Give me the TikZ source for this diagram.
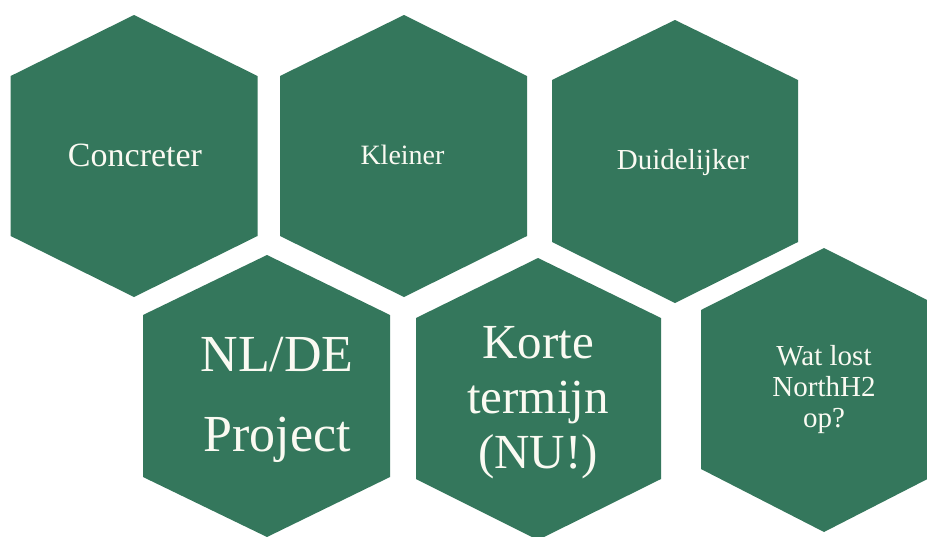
\documentclass[tikz,border=0pt]{standalone}
\usepackage{fontspec}
\setmainfont{Liberation Serif}
\definecolor{hexgreen}{RGB}{52,119,92}
\definecolor{hextext}{RGB}{250,250,242}
\newcommand\hexa[7]{\fill[hexfill] (#1,#2) -- (#4,#5) -- (#4,#6) -- (#1,#7) -- (#3,#6) -- (#3,#5) -- cycle;}
\begin{document}
\begin{tikzpicture}[x=1pt,y=-1pt,
  hexfill/.style={fill=hexgreen,draw=none},
  hexlabel/.style={text=hextext,align=center,inner sep=0pt,anchor=base}]
\clip (0,0) rectangle (927,536);
\fill[white] (0,0) rectangle (927,536);
% cx, top, left, right, side top, side bottom, bottom
\hexa{134}{15}{10.7}{257.5}{76}{236}{297}
\hexa{404}{15}{280}{527}{76}{236}{297}
\hexa{675}{20}{552}{798}{80}{242}{303}
\hexa{267}{255}{143}{390}{315}{477}{537}
\hexa{538}{258}{416}{661}{318}{479}{540}
\hexa{824}{248}{701}{947}{310}{469}{532}
% base anchor = baseline of the last line
\node[hexlabel,font=\fontsize{34}{40}\selectfont] (concreter) at (135,166) {Concreter};
\node[hexlabel,font=\fontsize{28}{32}\selectfont] (kleiner) at (402.5,164) {Kleiner};
\node[hexlabel,font=\fontsize{29}{33}\selectfont] (duidelijker) at (683,169) {Duidelijker};
\node[hexlabel,font=\fontsize{52}{80}\selectfont] (nlde) at (277,451) {NL/DE\\Project};
\node[hexlabel,font=\fontsize{49}{55}\selectfont] (korte) at (538,468) {Korte\\termijn\\(NU!)};
\node[hexlabel,font=\fontsize{29}{31}\selectfont] (watlost) at (824,427) {Wat lost\\NorthH2\\op?};
\end{tikzpicture}
\end{document}
